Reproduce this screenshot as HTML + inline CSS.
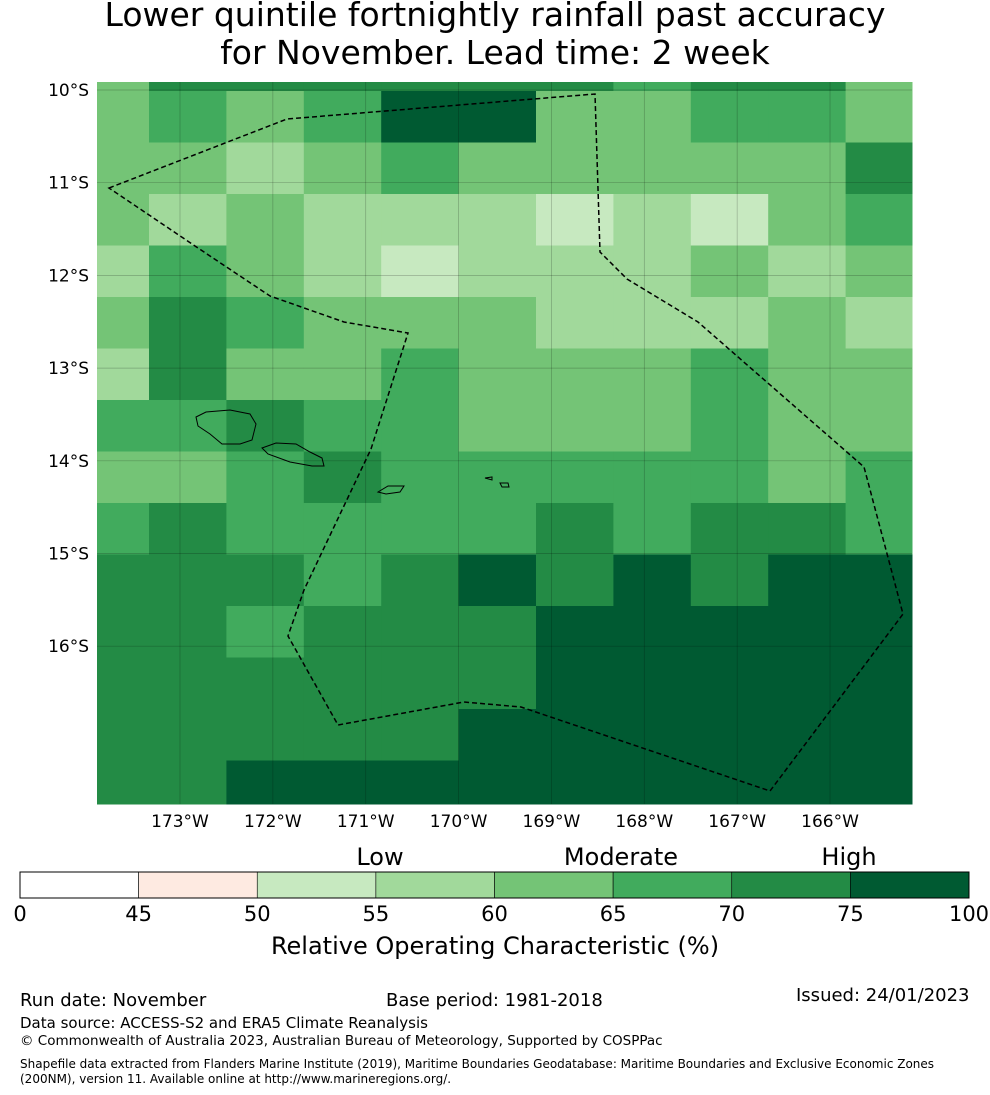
<!DOCTYPE html>
<html><head><meta charset="utf-8"><style>
body{margin:0;background:#fff;font-family:"DejaVu Sans","Liberation Sans",sans-serif;}
#wrap{position:relative;width:990px;height:1095px;overflow:hidden;}
.t{position:absolute;white-space:nowrap;color:#000;}
</style></head><body>
<div id="wrap">
<div class="t" style="left:0;width:990px;top:-4px;text-align:center;font-size:33px;line-height:38px;">Lower quintile fortnightly rainfall past accuracy<br>for November. Lead time: 2 week</div>
<svg id="map" width="990" height="1095" style="position:absolute;left:0;top:0" xmlns="http://www.w3.org/2000/svg"></svg>
<div class="t" style="left:20px;top:990px;font-size:18px;">Run date: November</div>
<div class="t" style="left:386px;top:990px;font-size:18px;">Base period: 1981-2018</div>
<div class="t" style="left:796px;top:985px;font-size:18px;">Issued: 24/01/2023</div>
<div class="t" style="left:20px;top:1014px;font-size:15px;">Data source: ACCESS-S2 and ERA5 Climate Reanalysis</div>
<div class="t" style="left:20px;top:1033px;font-size:13.5px;">© Commonwealth of Australia 2023, Australian Bureau of Meteorology, Supported by COSPPac</div>
<div class="t" style="left:20px;top:1057px;font-size:12px;line-height:15px;">Shapefile data extracted from Flanders Marine Institute (2019), Maritime Boundaries Geodatabase: Maritime Boundaries and Exclusive Economic Zones<br>(200NM), version 11. Available online at http://www.marineregions.org/.</div>
</div>
<script>
// ROC values (%) per grid row (north to south), per column (west to east)
const rowsData = [
[62,72,72,72,72,72,72,67,72,72,62],
[62,67,62,67,80,80,62,62,67,67,62],
[62,62,57,62,67,62,62,62,62,62,72],
[62,57,62,57,57,57,52,57,52,62,67],
[57,67,62,57,52,57,57,57,62,57,62],
[62,72,67,62,62,62,57,57,57,62,57],
[57,72,62,62,67,62,62,62,67,62,62],
[67,67,72,67,67,62,62,62,67,62,62],
[62,62,67,72,67,67,67,67,67,62,67],
[67,72,67,67,67,67,72,67,72,72,67],
[72,72,72,67,72,80,72,80,72,80,80],
[72,72,67,72,72,72,80,80,80,80,80],
[72,72,72,72,72,72,80,80,80,80,80],
[72,72,72,72,72,80,80,80,80,80,80],
[72,72,80,80,80,80,80,80,80,80,80]
];
const lonTicks = [173,172,171,170,169,168,167,166];
const latTicks = [10,11,12,13,14,15,16];
const cbBounds = [0,45,50,55,60,65,70,75,100];
const cbColors = ["#ffffff","#feeae1","#c7e9c0","#a1d99b","#74c476","#41ab5d","#238b45","#005a32"];
const cbNames = ["Low","Moderate","High"];

const FF='DejaVu Sans, Liberation Sans, sans-serif';
const NS="http://www.w3.org/2000/svg";
const svg=document.getElementById('map');
function mk(tag,attrs){const e=document.createElementNS(NS,tag);for(const k in attrs)e.setAttribute(k,attrs[k]);svg.appendChild(e);return e;}
function color(v){for(let i=cbBounds.length-2;i>=0;i--){if(v>=cbBounds[i])return cbColors[i];}return cbColors[0];}
const colEdges=[97,149,226.4,303.8,381.2,458.6,536,613.4,690.8,768.2,845.6,912];
const rowEdges=[82,91];for(let i=1;i<=13;i++)rowEdges.push(91+51.5*i);rowEdges.push(804);
const xLon=l=>180+(173-l)*92.86;
const yLat=l=>90+(l-10)*92.7;
rowsData.forEach((row,r)=>row.forEach((v,c)=>{
 const e=mk('rect',{x:colEdges[c],y:rowEdges[r],width:colEdges[c+1]-colEdges[c]+0.5,height:rowEdges[r+1]-rowEdges[r]+0.5,fill:color(v)});
 
 
}));
lonTicks.forEach(l=>{const x=xLon(l);
 const g=mk('line',{x1:x,x2:x,y1:82,y2:804,stroke:'#000','stroke-opacity':0.25,'stroke-width':0.7});
 
 const t=mk('text',{x:x,y:827,'font-size':17,'text-anchor':'middle','font-family':FF});t.textContent=l+'°W';
 
});
latTicks.forEach(l=>{const y=yLat(l);
 const g=mk('line',{x1:97,x2:912,y1:y,y2:y,stroke:'#000','stroke-opacity':0.25,'stroke-width':0.7});
 
 const t=mk('text',{x:89,y:y+6,'font-size':17,'text-anchor':'end','font-family':FF});t.textContent=l+'°S';
 
});
const eez=mk('polygon',{points:"109,188 287,119 595,94 600,252 627,279 698,322 864,467 903,614 770,791 521,707 464,702 338,725 288,636 304,590 371,449 408,333 344,322 270,296 195,246",fill:'none',stroke:'#000','stroke-width':1.5,'stroke-dasharray':'5,3'});

const isl=[ "M196,417 L206,412 L230,410 L250,414 L256,424 L252,440 L240,444 L222,444 L210,434 L198,426 Z",
 "M262,448 L276,443 L296,444 L310,452 L322,458 L324,466 L312,466 L290,462 L268,454 Z",
 "M378,492 L388,486 L404,486 L400,492 L386,494 Z","M485,478 L492,477 L492,480 Z","M500,483 L508,483 L509,487 L502,487 Z"];
isl.forEach(d=>{const p=mk('path',{d:d,fill:'none',stroke:'#000','stroke-width':1});});
const cbX=v=>{const i=cbBounds.indexOf(v);return 20+i*(949/8);};
for(let i=0;i<cbColors.length;i++){
 const r=mk('rect',{x:cbX(cbBounds[i]),y:872,width:949/8,height:26,fill:cbColors[i],stroke:'#000','stroke-width':0.6});
 
}
const fr=mk('rect',{x:20,y:872,width:949,height:26,fill:'none',stroke:'#000','stroke-width':1});

cbBounds.forEach(b=>{const t=mk('text',{x:cbX(b),y:921,'font-size':21,'text-anchor':'middle','font-family':FF});t.textContent=b;
 });
[[380],[621],[849]].forEach((p,i)=>{const t=mk('text',{x:p[0],y:865,'font-size':24,'text-anchor':'middle','font-family':FF});t.textContent=cbNames[i];
 });
const ct=mk('text',{x:495,y:954,'font-size':24,'text-anchor':'middle','font-family':FF});ct.textContent='Relative Operating Characteristic (%)';

</script>
</body></html>
